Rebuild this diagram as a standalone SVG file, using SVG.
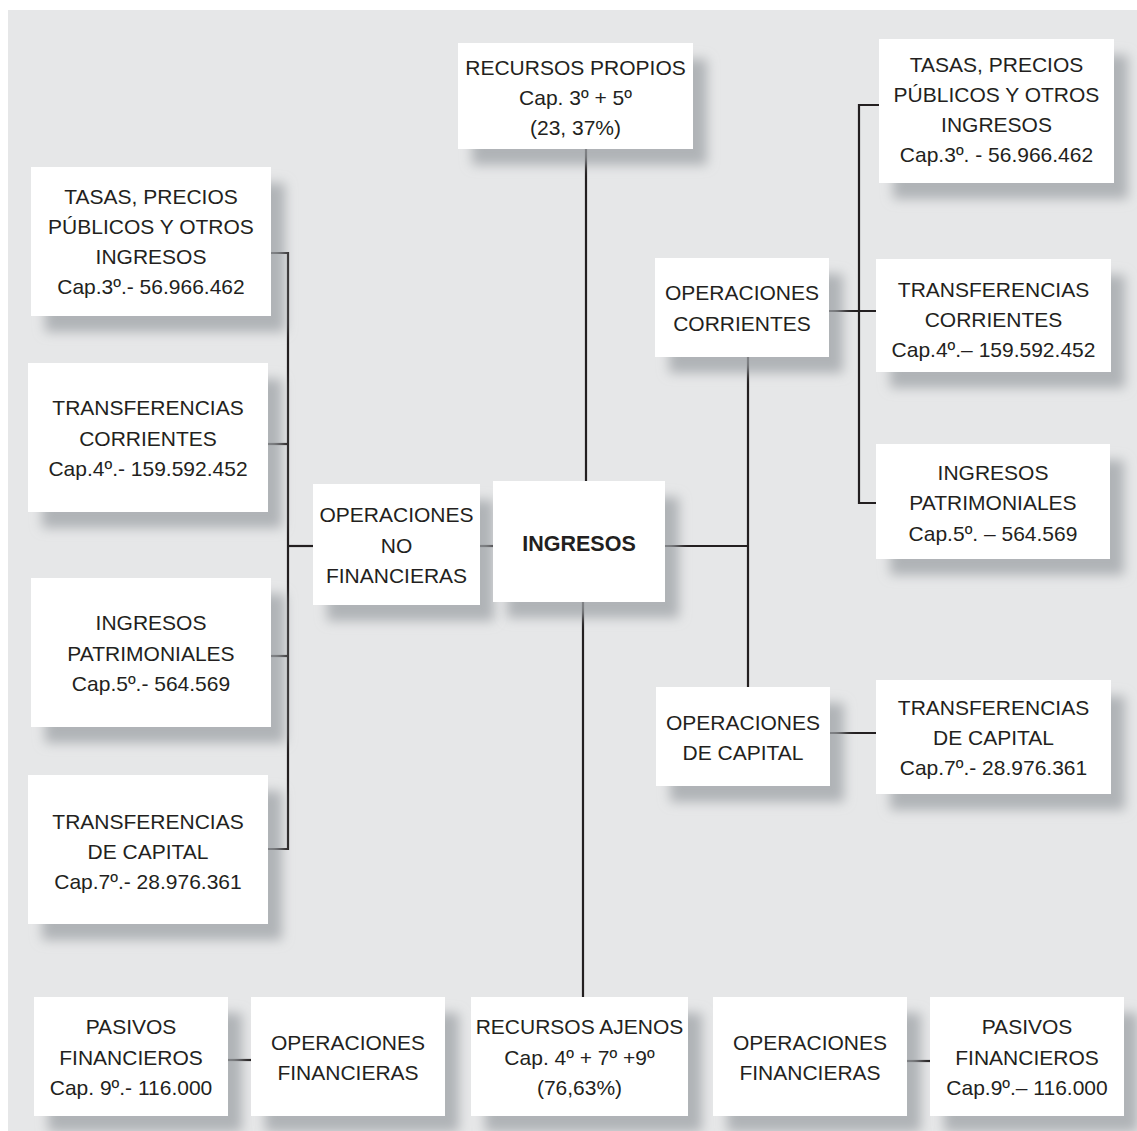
<svg xmlns="http://www.w3.org/2000/svg" width="1137" height="1131" viewBox="0 0 1137 1131">
<defs>
<filter id="sh" x="-20%" y="-20%" width="150%" height="160%">
<feDropShadow dx="14" dy="16" stdDeviation="6" flood-color="#9ea2a6" flood-opacity="0.75"/>
</filter>
<style>
.box{fill:#ffffff;filter:url(#sh);}
.t{font-family:"Liberation Sans",Arial,sans-serif;font-size:21px;fill:#231f20;text-anchor:middle;}
.b{font-weight:bold;font-size:21.5px;}
.c{stroke:#231f20;stroke-width:2.2;fill:none;}
</style>
</defs>
<rect x="8" y="10" width="1129" height="1121" fill="#e6e7e8"/>
<g id="connectors">
<path class="c" d="M586 148 V481"/>
<path class="c" d="M583 602 V997"/>
<path class="c" d="M665 546 H748"/>
<path class="c" d="M748 357 V687"/>
<path class="c" d="M829 311 H876"/>
<path class="c" d="M879 105 H859 V503 H876"/>
<path class="c" d="M830 733 H876"/>
<path class="c" d="M480 546 H493"/>
<path class="c" d="M271 253 H288 V849 H268"/>
<path class="c" d="M268 444 H288"/>
<path class="c" d="M271 656 H288"/>
<path class="c" d="M288 546 H313"/>
<path class="c" d="M228 1060 H251"/>
<path class="c" d="M907 1061 H930"/>
</g>
<g id="recursos-propios"><rect class="box" x="458" y="43" width="235" height="106"/>
<text class="t" x="575.5" y="75">RECURSOS PROPIOS</text><text class="t" x="575.5" y="105">Cap. 3º + 5º</text><text class="t" x="575.5" y="135">(23, 37%)</text></g>
<g id="tasas-der"><rect class="box" x="879" y="39" width="235" height="144"/>
<text class="t" x="996.5" y="72">TASAS, PRECIOS</text><text class="t" x="996.5" y="102">PÚBLICOS Y OTROS</text><text class="t" x="996.5" y="132">INGRESOS</text><text class="t" x="996.5" y="162">Cap.3º. - 56.966.462</text></g>
<g id="tasas-izq"><rect class="box" x="31" y="167" width="240" height="149"/>
<text class="t" x="151" y="204">TASAS, PRECIOS</text><text class="t" x="151" y="234">PÚBLICOS Y OTROS</text><text class="t" x="151" y="264">INGRESOS</text><text class="t" x="151" y="294">Cap.3º.- 56.966.462</text></g>
<g id="op-corrientes"><rect class="box" x="655" y="258" width="174" height="99"/>
<text class="t" x="742" y="300">OPERACIONES</text><text class="t" x="742" y="331">CORRIENTES</text></g>
<g id="transf-corr-der"><rect class="box" x="876" y="259" width="235" height="113"/>
<text class="t" x="993.5" y="297">TRANSFERENCIAS</text><text class="t" x="993.5" y="327">CORRIENTES</text><text class="t" x="993.5" y="357">Cap.4º.– 159.592.452</text></g>
<g id="transf-corr-izq"><rect class="box" x="28" y="363" width="240" height="149"/>
<text class="t" x="148" y="415">TRANSFERENCIAS</text><text class="t" x="148" y="446">CORRIENTES</text><text class="t" x="148" y="476">Cap.4º.- 159.592.452</text></g>
<g id="ing-patr-der"><rect class="box" x="876" y="444" width="234" height="115"/>
<text class="t" x="993" y="480">INGRESOS</text><text class="t" x="993" y="510">PATRIMONIALES</text><text class="t" x="993" y="541">Cap.5º. – 564.569</text></g>
<g id="op-no-fin"><rect class="box" x="313" y="484" width="167" height="121"/>
<text class="t" x="396.5" y="522">OPERACIONES</text><text class="t" x="396.5" y="553">NO</text><text class="t" x="396.5" y="583">FINANCIERAS</text></g>
<g id="ingresos"><rect class="box" x="493" y="481" width="172" height="121"/>
<text class="t b" x="579" y="551">INGRESOS</text></g>
<g id="ing-patr-izq"><rect class="box" x="31" y="578" width="240" height="149"/>
<text class="t" x="151" y="630">INGRESOS</text><text class="t" x="151" y="661">PATRIMONIALES</text><text class="t" x="151" y="691">Cap.5º.- 564.569</text></g>
<g id="op-capital"><rect class="box" x="656" y="687" width="174" height="99"/>
<text class="t" x="743" y="730">OPERACIONES</text><text class="t" x="743" y="760">DE CAPITAL</text></g>
<g id="transf-cap-der"><rect class="box" x="876" y="680" width="235" height="114"/>
<text class="t" x="993.5" y="715">TRANSFERENCIAS</text><text class="t" x="993.5" y="745">DE CAPITAL</text><text class="t" x="993.5" y="775">Cap.7º.- 28.976.361</text></g>
<g id="transf-cap-izq"><rect class="box" x="28" y="775" width="240" height="149"/>
<text class="t" x="148" y="829">TRANSFERENCIAS</text><text class="t" x="148" y="859">DE CAPITAL</text><text class="t" x="148" y="889">Cap.7º.- 28.976.361</text></g>
<g id="pasivos-izq"><rect class="box" x="34" y="997" width="194" height="119"/>
<text class="t" x="131" y="1034">PASIVOS</text><text class="t" x="131" y="1065">FINANCIEROS</text><text class="t" x="131" y="1095">Cap. 9º.- 116.000</text></g>
<g id="op-fin-izq"><rect class="box" x="251" y="997" width="194" height="119"/>
<text class="t" x="348" y="1050">OPERACIONES</text><text class="t" x="348" y="1080">FINANCIERAS</text></g>
<g id="recursos-ajenos"><rect class="box" x="471" y="997" width="217" height="119"/>
<text class="t" x="579.5" y="1034">RECURSOS AJENOS</text><text class="t" x="579.5" y="1065">Cap. 4º + 7º +9º</text><text class="t" x="579.5" y="1095">(76,63%)</text></g>
<g id="op-fin-der"><rect class="box" x="713" y="997" width="194" height="119"/>
<text class="t" x="810" y="1050">OPERACIONES</text><text class="t" x="810" y="1080">FINANCIERAS</text></g>
<g id="pasivos-der"><rect class="box" x="930" y="997" width="194" height="119"/>
<text class="t" x="1027" y="1034">PASIVOS</text><text class="t" x="1027" y="1065">FINANCIEROS</text><text class="t" x="1027" y="1095">Cap.9º.– 116.000</text></g>
</svg>
